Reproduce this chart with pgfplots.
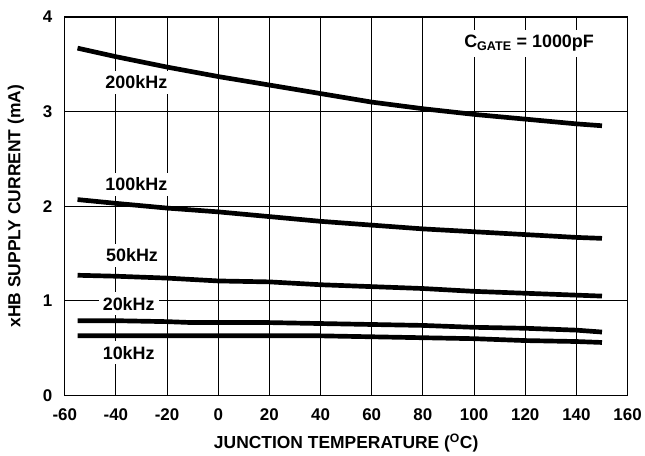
\documentclass[border=0pt]{standalone}
\usepackage{fontspec}
\setmainfont{Liberation Sans}
\usepackage{pgfplots}
\pgfplotsset{compat=1.18}
\begin{document}
\begin{tikzpicture}
\begin{axis}[
  scale only axis, width=565pt, height=380pt,
  xmin=-60, xmax=160, ymin=0, ymax=4,
  xtick={-60,-40,...,160}, ytick={0,1,2,3,4},
  grid=major, major grid style={black, line width=1pt},
  axis line style={line width=1.3pt},
  major tick length=0pt,
  /pgf/number format/assume math mode=true,
  ticklabel style={font=\bfseries\fontsize{17}{19}\selectfont},
  xticklabel style={yshift=-10pt},
  yticklabel style={xshift=-9pt},
  xlabel={JUNCTION TEMPERATURE (\textsuperscript{O}C)},
  ylabel={xHB SUPPLY CURRENT (mA)},
  label style={font=\bfseries\fontsize{17.5}{20}\selectfont},
  xlabel style={yshift=-6pt},
  ylabel style={yshift=12pt},
]
\addplot[black, line width=4.7pt, line join=round, no marks] coordinates {(-55,3.67)(-40,3.58)(-20,3.47)(0,3.37)(20,3.28)(40,3.19)(60,3.10)(80,3.03)(100,2.97)(120,2.92)(140,2.87)(150,2.85)};
\addplot[black, line width=4.7pt, line join=round, no marks] coordinates {(-55,2.07)(-40,2.03)(-20,1.98)(0,1.94)(20,1.89)(40,1.84)(60,1.80)(80,1.76)(100,1.73)(120,1.70)(140,1.67)(150,1.66)};
\addplot[black, line width=4.7pt, line join=round, no marks] coordinates {(-55,1.27)(-40,1.26)(-20,1.24)(0,1.21)(20,1.20)(40,1.17)(60,1.15)(80,1.13)(100,1.10)(120,1.08)(140,1.06)(150,1.05)};
\addplot[black, line width=4.7pt, line join=round, no marks] coordinates {(-55,0.79)(-40,0.79)(-20,0.78)(-10,0.77)(0,0.77)(20,0.77)(40,0.76)(60,0.75)(80,0.74)(100,0.72)(120,0.71)(140,0.69)(150,0.67)};
\addplot[black, line width=4.7pt, line join=round, no marks] coordinates {(-55,0.63)(-40,0.63)(-20,0.63)(0,0.63)(20,0.63)(40,0.63)(60,0.62)(80,0.61)(100,0.60)(120,0.58)(140,0.57)(150,0.56)};
\begin{scope}[every node/.style={fill=white, inner xsep=4pt, inner ysep=5pt, font=\bfseries\fontsize{18}{20}\selectfont}]
\node at (axis cs:-32,3.31) {200kHz};
\node at (axis cs:-32,2.23) {100kHz};
\node at (axis cs:-33.7,1.48) {50kHz};
\node at (axis cs:-35,0.97) {20kHz};
\node at (axis cs:-35,0.45) {10kHz};
\node at (axis cs:121.5,3.72) {C\textsubscript{GATE} = 1000pF};
\end{scope}
\end{axis}
\path ([shift={(-65pt,-56pt)}]current axis.south west) rectangle ([shift={(15pt,17pt)}]current axis.north east);
\end{tikzpicture}
\end{document}
